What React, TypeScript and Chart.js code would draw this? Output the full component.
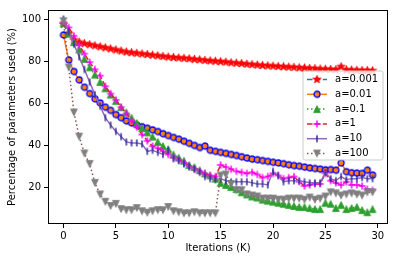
import React, { useEffect, useRef } from "react";
import { Chart, registerables } from "chart.js";

Chart.register(...registerables);

const iterations = [
  0, 0.5, 1, 1.5, 2, 2.5, 3, 3.5, 4, 4.5, 5, 5.5, 6, 6.5, 7, 7.5, 8, 8.5, 9, 9.5,
  10, 10.5, 11, 11.5, 12, 12.5, 13, 13.5, 14, 14.5, 15, 15.5, 16, 16.5, 17, 17.5, 18, 18.5, 19, 19.5,
  20, 20.5, 21, 21.5, 22, 22.5, 23, 23.5, 24, 24.5, 25, 25.5, 26, 26.5, 27, 27.5, 28, 28.5, 29, 29.5,
];

const a0001 = [
  97.5, 93, 90, 89, 88.3, 87.8, 87.3, 86.8, 86.3, 85.8, 85.3, 84.8, 84.3, 84, 83.7, 83.4, 83.1, 82.8, 82.5, 82.2,
  81.9, 81.7, 81.5, 81.3, 81.1, 80.8, 80.6, 80.3, 80.1, 79.9, 79.7, 79.5, 79.2, 79, 78.8, 78.5, 78.3, 78.1, 77.9, 77.7,
  77.6, 77.4, 77.3, 77.1, 77, 76.8, 76.7, 76.5, 76.4, 76.2, 76.1, 76, 75.9, 77.3, 75.8, 75.7, 75.6, 75.5, 75.5, 75.4,
];

const a001 = [
  92.4, 80.5, 75, 71, 67.5, 64.5, 62, 60, 58, 56.5, 54.5, 53, 51.5, 50.5, 49.5, 48.7, 48, 47.2, 46.4, 45.4,
  44.5, 43.6, 42.8, 41.8, 40.8, 39.8, 38.8, 39.5, 37.5, 37, 36.5, 36, 35.5, 35, 34.4, 33.8, 33.3, 33, 32.6, 32.2,
  31.8, 31.5, 31.1, 30.6, 30.2, 29.9, 29.5, 29.1, 28.8, 28.5, 28.2, 28.3, 28, 31.5, 27.3, 26.8, 26.6, 26.5, 28, 25.7,
];

const a01 = [
  98, 93, 89, 85.5, 81, 77, 73.5, 70, 67, 64, 61, 58, 55.5, 53, 50.5, 48, 46, 44, 41.5, 39.5,
  38, 35.5, 34, 32.5, 30.5, 29.5, 28, 26.5, 25.5, 24, 22, 21, 20, 19, 17.5, 16.5, 15.5, 15, 14, 13.5,
  13, 12.5, 12, 11.5, 11, 10.5, 10.5, 10, 9.5, 9.5, 12.5, 12, 10, 11.5, 9.5, 10, 10.5, 9, 8, 9.5,
];

const a1 = [
  98.5, 96, 92, 87.5, 83.5, 79.5, 76, 73, 68, 64.5, 61.5, 58, 55, 51.5, 48.5, 45, 42, 39.5, 38.5, 37,
  35.5, 34, 33, 31.5, 30, 28.5, 27.5, 26.5, 25.5, 25, 30.5, 29.5, 28.5, 27.5, 27, 26.5, 27, 26, 24.5, 25,
  26.5, 25.5, 24, 24.5, 25, 22.5, 20.5, 21, 21.5, 21.5, 26.5, 23, 22, 21, 22.5, 21, 21, 20.5, 19, 18.5,
];

const a10 = [
  100, 94, 88, 82, 76, 70, 64, 58.5, 53, 49.5, 46.5, 44, 41.5, 41, 41, 40.5, 37, 37.5, 36.5, 35.5,
  37.5, 33.5, 32.5, 31, 29.5, 28.5, 27, 25, 24, 23.5, 24, 23, 22.5, 22.5, 22.5, 22.5, 22, 21.5, 21.5, 21,
  27.5, 25.5, 22.5, 23, 23, 23, 22.5, 22, 22, 22, 27, 24, 23, 25, 23.5, 24, 24, 24.5, 24, 24,
];

const a100 = [
  99, 77, 55.5, 44, 36, 31, 22, 16.5, 13, 11, 12, 9.5, 9, 9, 10, 8.5, 7.8, 8.5, 9, 9,
  10.5, 8.5, 8, 7.5, 7.5, 8, 7.5, 7.5, 7.5, 7.5, 25.5, 26, 21.5, 18.5, 18.5, 16.5, 16, 15.5, 14.5, 14.5,
  14.5, 14, 14, 14.5, 14.5, 14.5, 14, 15, 14, 14.5, 15.5, 17.5, 17, 16, 16.5, 17, 16.5, 16, 17.5, 17.5,
];

const seriesLabels = ["a=0.001", "a=0.01", "a=0.1", "a=1", "a=10", "a=100"];
const xTicks = [0, 5, 10, 15, 20, 25, 30];
const yTicks = [20, 40, 60, 80, 100];

const FONT = "'DejaVu Sans', sans-serif";

function makeMarker(size: number, draw: (ctx: CanvasRenderingContext2D, c: number) => void) {
  const cv = document.createElement("canvas");
  cv.width = size;
  cv.height = size;
  const ctx = cv.getContext("2d")!;
  draw(ctx, size / 2);
  return cv;
}

function starMarker(color: string) {
  return makeMarker(11, (ctx, c) => {
    ctx.beginPath();
    for (let i = 0; i < 10; i++) {
      const r = i % 2 === 0 ? 4.3 : 1.8;
      const ang = -Math.PI / 2 + (i * Math.PI) / 5;
      const px = c + r * Math.cos(ang);
      const py = c + r * Math.sin(ang);
      if (i === 0) ctx.moveTo(px, py);
      else ctx.lineTo(px, py);
    }
    ctx.closePath();
    ctx.fillStyle = color;
    ctx.fill();
    ctx.strokeStyle = color;
    ctx.lineWidth = 0.8;
    ctx.stroke();
  });
}

function circleMarker(fill: string, edge: string) {
  return makeMarker(10, (ctx, c) => {
    ctx.beginPath();
    ctx.arc(c, c, 3, 0, Math.PI * 2);
    ctx.fillStyle = fill;
    ctx.fill();
    ctx.strokeStyle = edge;
    ctx.lineWidth = 1.3;
    ctx.stroke();
  });
}

function triangleMarker(color: string, up: boolean) {
  return makeMarker(10, (ctx, c) => {
    const h = 3.4;
    ctx.beginPath();
    if (up) {
      ctx.moveTo(c, c - h);
      ctx.lineTo(c + h, c + h);
      ctx.lineTo(c - h, c + h);
    } else {
      ctx.moveTo(c, c + h);
      ctx.lineTo(c + h, c - h);
      ctx.lineTo(c - h, c - h);
    }
    ctx.closePath();
    ctx.fillStyle = color;
    ctx.fill();
    ctx.strokeStyle = color;
    ctx.lineWidth = 0.8;
    ctx.stroke();
  });
}

function plusMarker(color: string) {
  return makeMarker(10, (ctx, c) => {
    ctx.strokeStyle = color;
    ctx.lineWidth = 1.5;
    ctx.beginPath();
    ctx.moveTo(c - 3.5, c);
    ctx.lineTo(c + 3.5, c);
    ctx.moveTo(c, c - 3.5);
    ctx.lineTo(c, c + 3.5);
    ctx.stroke();
  });
}

function vlineMarker(color: string) {
  return makeMarker(10, (ctx, c) => {
    ctx.strokeStyle = color;
    ctx.lineWidth = 1.5;
    ctx.beginPath();
    ctx.moveTo(c, c - 3.5);
    ctx.lineTo(c, c + 3.5);
    ctx.stroke();
  });
}

export default function App() {
  const ref = useRef<HTMLCanvasElement | null>(null);

  useEffect(() => {
    const canvas = ref.current;
    if (!canvas) return;

    const seriesValues = [a0001, a001, a01, a1, a10, a100];
    const lineColors = ["#1f77b4", "#ff7f0e", "#2ca02c", "#d62728", "#9467bd", "#8c564b"];
    const dashes = [[5.5, 2.4], [], [1.5, 2.5], [5.5, 2.4], [], [1.5, 2.5]];
    const markers = [
      starMarker("#ff0000"),
      circleMarker("#ff7f0e", "#0000ff"),
      triangleMarker("#2ca02c", true),
      plusMarker("#ff00ff"),
      vlineMarker("#2b2b9b"),
      triangleMarker("#7f7f7f", false),
    ];

    const framePlugin = {
      id: "frame",
      afterDatasetsDraw(chart: any) {
        const { ctx, chartArea: a } = chart;
        ctx.save();
        ctx.strokeStyle = "#000";
        ctx.lineWidth = 1;
        ctx.strokeRect(a.left + 0.5, a.top + 0.5, a.right - a.left - 1, a.bottom - a.top - 1);
        ctx.restore();
      },
    };

    const decorPlugin = {
      id: "decor",
      afterDraw(chart: any) {
        const { ctx, chartArea: a } = chart;
        ctx.save();
        // axis titles
        ctx.fillStyle = "#000";
        ctx.font = `10px ${FONT}`;
        ctx.textAlign = "center";
        ctx.textBaseline = "middle";
        ctx.fillText("Iterations (K)", (a.left + a.right) / 2, 248);
        ctx.save();
        ctx.translate(12, (a.top + a.bottom) / 2);
        ctx.rotate(-Math.PI / 2);
        ctx.fillText("Percentage of parameters used (%)", 0, 0);
        ctx.restore();

        // legend
        const lx = 303, ly = 71, lw = 80, lh = 89;
        ctx.beginPath();
        const r = 2;
        ctx.moveTo(lx + r, ly);
        ctx.lineTo(lx + lw - r, ly);
        ctx.quadraticCurveTo(lx + lw, ly, lx + lw, ly + r);
        ctx.lineTo(lx + lw, ly + lh - r);
        ctx.quadraticCurveTo(lx + lw, ly + lh, lx + lw - r, ly + lh);
        ctx.lineTo(lx + r, ly + lh);
        ctx.quadraticCurveTo(lx, ly + lh, lx, ly + lh - r);
        ctx.lineTo(lx, ly + r);
        ctx.quadraticCurveTo(lx, ly, lx + r, ly);
        ctx.closePath();
        ctx.fillStyle = "rgba(255,255,255,0.8)";
        ctx.fill();
        ctx.strokeStyle = "#cccccc";
        ctx.lineWidth = 1;
        ctx.stroke();

        seriesLabels.forEach((label, i) => {
          const y = 79.5 + i * 14.8;
          ctx.save();
          ctx.strokeStyle = lineColors[i];
          ctx.lineWidth = 1.5;
          ctx.setLineDash(dashes[i]);
          ctx.beginPath();
          ctx.moveTo(307, y);
          ctx.lineTo(327, y);
          ctx.stroke();
          ctx.restore();
          const m = markers[i];
          ctx.drawImage(m, 317 - m.width / 2, y - m.height / 2);
          ctx.fillStyle = "#000";
          ctx.font = `10px ${FONT}`;
          ctx.textAlign = "left";
          ctx.textBaseline = "middle";
          ctx.fillText(label, 335, y);
        });
        ctx.restore();
      },
    };

    const axisCommon = {
      type: "linear" as const,
      grid: { drawOnChartArea: false, drawTicks: true, tickLength: 4, color: "#000", lineWidth: 1 },
      border: { display: false },
      ticks: { color: "#000", font: { family: FONT, size: 10 }, maxRotation: 0, autoSkip: false },
    };

    const chart = new Chart(canvas, {
      type: "line",
      data: {
        datasets: seriesValues.map((vals, i) => ({
          label: seriesLabels[i],
          data: iterations.map((x, j) => ({ x, y: vals[j] })),
          borderColor: lineColors[i],
          backgroundColor: lineColors[i],
          borderWidth: 1.5,
          borderDash: dashes[i],
          pointStyle: markers[i] as any,
          pointRadius: 4,
          pointHoverRadius: 4,
          fill: false,
          tension: 0,
          order: seriesValues.length - i,
        })),
      },
      options: {
        responsive: false,
        animation: false,
        events: [],
        layout: { padding: { top: 10, right: 11, left: 0, bottom: 0 } },
        plugins: { legend: { display: false }, tooltip: { enabled: false } },
        scales: {
          x: {
            ...axisCommon,
            min: -1.475,
            max: 30.975,
            ticks: { ...axisCommon.ticks, padding: 2 },
            afterBuildTicks: (s: any) => {
              s.ticks = xTicks.map((v) => ({ value: v }));
            },
            afterFit: (s: any) => {
              s.height = 39;
            },
          },
          y: {
            ...axisCommon,
            min: 2.4,
            max: 104.3,
            ticks: { ...axisCommon.ticks, padding: 3 },
            afterBuildTicks: (s: any) => {
              s.ticks = yTicks.map((v) => ({ value: v }));
            },
            afterFit: (s: any) => {
              s.width = 48;
            },
          },
        },
      },
      plugins: [framePlugin, decorPlugin],
    });

    return () => chart.destroy();
  }, []);

  return (
    <div style={{ position: "fixed", left: 0, top: 0, width: 399, height: 263, background: "#fff" }}>
      <canvas ref={ref} width={399} height={263} style={{ display: "block" }} />
    </div>
  );
}
